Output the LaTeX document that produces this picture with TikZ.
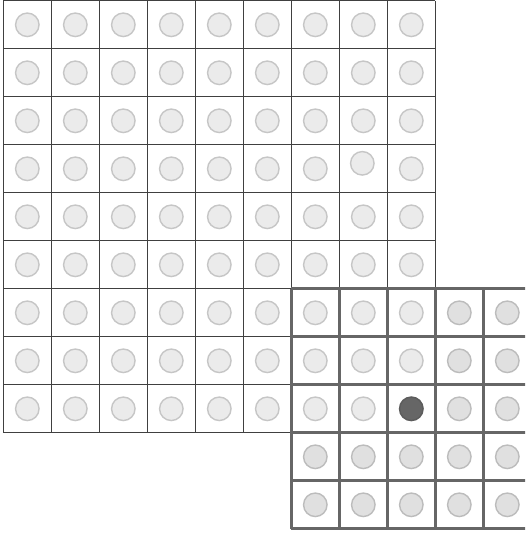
\documentclass[tikz,border=0pt]{standalone}
\definecolor{mainline}{HTML}{404040}
\definecolor{overline}{HTML}{666666}
\definecolor{circin}{HTML}{EBEBEB}
\definecolor{circout}{HTML}{E0E0E0}
\definecolor{circedge}{HTML}{C6C6C6}
\definecolor{circdark}{HTML}{666666}
\begin{document}
\begin{tikzpicture}[x=1pt,y=-1pt,
  dot/.style={circle,draw=circedge,fill=circin,line width=1.4pt,minimum size=23.5pt,inner sep=0pt},
  dotout/.style={dot,fill=circout,draw=circedge!95!black},
  dotdark/.style={dot,fill=circdark,draw=circdark!90!black},
  thinline/.style={draw=mainline,line width=1.3pt},
  thickline/.style={draw=overline,line width=3pt}]
\useasboundingbox (0,0) rectangle (525,533);
\clip (0,0) rectangle (525,533);
\fill[white] (0,0) rectangle (525,533);
% main grid lines
\foreach \k in {0,...,9} {
  \draw[thinline] ({3.3+48*\k},0.8) -- ({3.3+48*\k},432.8);
  \draw[thinline] (3.3,{0.8+48*\k}) -- (435.3,{0.8+48*\k});
}
% main circles
\foreach \i in {0,...,8} {
  \foreach \j in {0,...,8} {
    \pgfmathsetmacro\dx{(\i==7 && \j==3) ? -1 : 0}
    \pgfmathsetmacro\dy{(\i==7 && \j==3) ? -5.5 : 0}
    \node[dot] (c\i-\j) at ({3.3+48*(\i+0.5)+\dx},{0.8+48*(\j+0.5)+\dy}) {};
  }
}
% overlay window
\fill[white] (291.3,288.8) rectangle (531.3,528.8);
\foreach \i in {6,...,10} {
  \foreach \j in {6,...,10} {
    \pgfmathsetmacro\inside{(\i<9 && \j<9) ? 1 : 0}
    \ifnum\inside=1
      \node[dot] (o\i-\j) at ({3.3+48*(\i+0.5)},{0.8+48*(\j+0.5)}) {};
    \else
      \node[dotout] (o\i-\j) at ({3.3+48*(\i+0.5)},{0.8+48*(\j+0.5)}) {};
    \fi
  }
}
\node[dotdark] (center) at ({3.3+48*8.5},{0.8+48*8.5}) {};
\foreach \k in {6,...,11} {
  \draw[thickline] ({3.3+48*\k},288.8) -- ({3.3+48*\k},528.8);
  \draw[thickline] (291.3,{0.8+48*\k}) -- (531.3,{0.8+48*\k});
}
\end{tikzpicture}
\end{document}
